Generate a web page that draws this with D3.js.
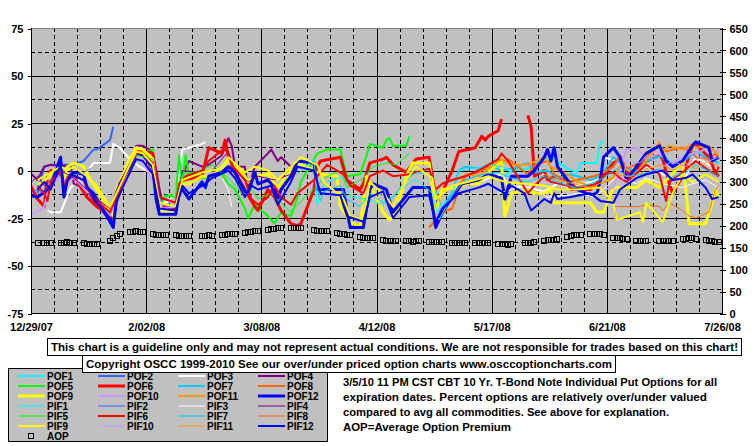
<!DOCTYPE html>
<html><head><meta charset="utf-8">
<script src="https://cdn.jsdelivr.net/npm/d3@7"></script>
<style>
html,body{margin:0;padding:0;background:#fff;}
svg{display:block;}
text{font-family:"Liberation Sans",Arial,sans-serif;font-weight:bold;font-size:11px;fill:#000;}
.leg text{font-size:10px;}
</style></head><body>
<svg id="c" width="755" height="446"></svg>
<script>
// ---------------- DATA ----------------
const xTickLabels = ["12/29/07","2/02/08","3/08/08","4/12/08","5/17/08","6/21/08","7/26/08"];
const leftTickLabels = [75,50,25,0,-25,-50,-75];
const rightTickLabels = [650,600,550,500,450,400,350,300,250,200,150,100,50,0];

const POF1 = [["5/21",-3],["5/23",0],["5/28",1],["6/2",7],["6/5",6],["6/9",1],["6/12",-1],["6/13",4],["6/18",4],["6/19",15],["6/20",15]];
const POF2 = [["12/31",-12],["1/2",2],["1/4",3],["1/8",3],["1/11",3],["1/14",5],["1/16",9],["1/17",11],["1/18",11],["1/22",16],["1/23",23]];
const POF3 = [["1/3",-21],["1/4",-22],["1/7",-22],["1/10",-9],["1/14",-3],["1/17",4],["1/22",4],["1/23",14],["1/25",12],["1/28",6],["1/31",2],["2/4",-2],["2/5",-6],["2/6",-15],["2/8",-17],["2/11",-12],["2/13",11],["2/15",12],["2/19",14],["2/20",15],["2/21",null],["5/14",-6],["5/16",-4],["5/20",-2],["5/22",-8],["5/28",-9],["6/2",-11],["6/6",-7],["6/10",-9],["6/13",-7],["6/17",-6],["6/19",-3],["6/20",7],["6/24",5],["6/27",2],["7/1",0],["7/3",2],["7/8",-2],["7/11",-4],["7/15",-3],["7/18",7],["7/22",3],["7/25",0]];
const POF4 = [["12/28",0],["12/31",-5],["1/2",2],["1/4",3],["1/7",2],["1/10",3],["1/11",-7],["1/14",-9],["1/16",-13],["1/18",-18],["1/22",-26],["1/23",-29],["1/24",-17],["1/28",2],["1/30",13],["2/1",13],["2/4",10],["2/5",1],["2/7",-19],["2/11",-20],["2/13",-2],["2/15",5],["2/19",2],["2/21",3],["2/25",8],["2/27",17],["2/28",13],["2/29",2],["3/3",2],["3/4",-10],["3/6",2],["3/10",9],["3/11",11],["3/13",5],["3/14",7],["3/17",2],["3/18",1]];
const POF5 = [["2/1",9],["2/4",11],["2/5",-7],["2/6",-19],["2/8",-13],["2/11",-14],["2/12",8],["2/13",-6],["2/14",8],["2/15",-2],["2/19",-4],["2/21",-4],["2/25",-2],["2/27",-7],["2/29",-10],["3/3",-20],["3/4",-25],["3/6",-18],["3/10",-24],["3/12",-28],["3/14",-22],["3/17",-24],["3/19",-14],["3/20",-6],["3/24",6],["3/25",9],["3/28",11],["4/1",11],["4/3",-3],["4/7",-2],["4/9",8],["4/10",14],["4/14",12],["4/15",16],["4/16",17],["4/17",13],["4/21",13],["4/22",18]];
const POF6 = [["12/28",-5],["12/31",-15],["1/2",-19],["1/3",-3],["1/4",0],["1/7",-2],["1/9",-4],["1/11",-3],["1/15",-14],["1/18",-19],["1/22",-23],["1/23",-25],["1/24",-12],["1/28",-1],["1/29",7],["1/31",11],["2/4",9],["2/5",-5],["2/6",-19],["2/11",-21],["2/13",-5],["2/19",-3],["2/21",12],["2/25",9],["2/26",16],["2/27",7],["2/29",-1],["3/6",-19],["3/7",-21],["3/10",-10],["3/12",-14],["3/14",-21],["3/17",-28],["3/19",-29],["3/20",-28],["3/24",-10],["3/25",2],["3/26",5],["4/1",7],["4/3",-5],["4/7",-10],["4/8",-7],["4/10",4],["4/14",6],["4/15",7],["4/17",3],["4/21",-1],["4/24",6],["4/28",7],["4/29",-3],["4/30",-19],["5/5",0],["5/7",10],["5/12",12],["5/14",18],["5/15",16],["5/16",18],["5/19",21],["5/20",27],["5/21",null],["5/28",29],["5/29",23],["5/30",-3],["6/2",0],["6/3",-5],["6/5",-3],["6/9",-5],["6/10",-10],["6/16",-10],["6/19",-5],["6/23",4],["6/25",6],["6/27",-2],["7/1",2],["7/3",5],["7/7",8],["7/8",6],["7/10",-7],["7/11",-12],["7/14",-3],["7/17",13],["7/18",14],["7/22",7],["7/24",-1],["7/25",-3]];
const POF7 = [["5/1",-22],["5/5",-12],["5/7",0],["5/9",2],["5/13",1],["5/16",3],["5/20",0],["5/23",1],["5/28",4],["5/30",-1],["6/3",0],["6/6",-4],["6/10",-2],["6/16",-5],["6/19",-3],["6/23",7],["6/25",4],["6/30",-1],["7/3",5],["7/8",8],["7/11",3],["7/15",6],["7/18",10],["7/22",6],["7/25",4]];
const POF8 = [["4/28",-30],["4/30",-26],["5/2",-22],["5/5",-20],["5/7",-10],["5/9",-3],["5/13",-1],["5/16",2],["5/20",4],["5/22",6],["5/28",-2],["5/30",3],["6/3",5],["6/5",-2],["6/9",-6],["6/12",-5],["6/17",-3],["6/19",-2],["6/23",2],["6/25",8],["6/27",1],["7/1",4],["7/3",7],["7/7",13],["7/9",10],["7/11",11],["7/14",12],["7/17",10],["7/18",7],["7/22",6],["7/24",9],["7/25",6]];
const POF9 = [["12/31",-8],["1/3",-4],["1/4",-2],["1/7",4],["1/8",-6],["1/9",2],["1/11",4],["1/14",2],["1/16",-5],["1/18",-10],["1/22",-21],["1/23",-24],["1/24",-10],["1/28",6],["1/30",12],["2/1",11],["2/4",6],["2/5",-12],["2/7",-22],["2/11",-22],["2/13",-7],["2/15",-7],["2/19",-3],["2/22",-3],["2/27",5],["2/29",2],["3/3",-3],["3/4",-6],["3/6",-3],["3/10",-2],["3/13",-9],["3/17",0],["3/19",4],["3/24",0],["3/26",-2],["3/31",-3],["4/1",-19],["4/4",-27],["4/7",-30],["4/9",-3],["4/14",-22],["4/16",-26],["4/18",-22],["4/21",-3],["4/23",4],["4/28",4],["4/29",-9],["4/30",-21],["5/2",-10],["5/7",-9],["5/9",-7],["5/13",-7],["5/16",-1],["5/20",5],["5/21",-24],["5/23",-12],["5/28",-10],["5/30",-12],["6/2",-12],["6/4",-10],["6/5",-17],["6/16",-17],["6/18",-22],["6/20",-22],["6/23",-9],["6/30",-9],["7/3",-5],["7/7",-9],["7/14",4],["7/15",-10],["7/16",-28],["7/21",-28],["7/23",-17],["7/24",-10],["7/25",-14]];
const POF10 = [["12/28",-23],["12/31",-22],["1/2",-19],["1/3",-12],["1/4",-8],["1/7",-3],["1/9",-6],["1/11",-4],["1/15",-11],["1/18",-15],["1/22",-24],["1/24",-13],["1/28",0],["1/30",6],["2/1",5],["2/5",-10],["2/7",-20],["2/11",-19],["2/13",-4],["2/14",null],["6/20",-10],["6/23",-9],["6/25",1],["6/27",11],["6/30",12],["7/3",6],["7/7",9],["7/10",3],["7/14",7],["7/17",9],["7/21",11],["7/25",10]];
const POF11 = [["5/5",-15],["5/7",-8],["5/9",-2],["5/13",-3],["5/16",1],["5/20",6],["5/23",3],["5/28",3],["6/2",7],["6/4",2],["6/9",-2],["6/12",-6],["6/16",-8],["6/19",-7],["6/23",-4],["6/25",2],["6/30",-2],["7/2",3],["7/7",15],["7/8",10],["7/10",13],["7/14",11],["7/17",14],["7/18",12],["7/22",13],["7/25",8]];
const POF12 = [["12/28",-13],["12/31",-14],["1/3",-10],["1/4",-8],["1/7",7],["1/8",-14],["1/9",-5],["1/11",-1],["1/14",-2],["1/15",-9],["1/17",-12],["1/18",-15],["1/22",-27],["1/23",-30],["1/24",-14],["1/25",-7],["1/28",2],["1/30",9],["2/1",8],["2/4",2],["2/5",-15],["2/6",-23],["2/11",-23],["2/12",-12],["2/13",-10],["2/15",-15],["2/19",-6],["2/20",-9],["2/21",-3],["2/25",-1],["2/27",2],["2/29",-1],["3/3",-11],["3/4",-12],["3/6",-1],["3/7",-7],["3/10",-5],["3/12",-9],["3/13",-15],["3/14",-10],["3/17",-3],["3/19",5],["3/24",4],["3/25",-10],["4/2",-10],["4/3",-21],["4/4",-30],["4/8",-30],["4/10",-10],["4/11",-7],["4/15",-10],["4/17",-22],["4/23",-9],["4/28",-9],["4/29",-19],["4/30",-30],["5/2",-22],["5/5",-14],["5/8",-7],["5/13",-5],["5/16",-2],["5/20",-4],["5/21",-15],["5/23",-3],["5/28",-3],["5/30",0],["6/2",7],["6/3",11],["6/4",5],["6/5",12],["6/6",2],["6/9",-5],["6/12",-10],["6/16",-13],["6/18",-12],["6/19",-5],["6/20",7],["6/23",12],["6/25",7],["6/27",-5],["6/30",2],["7/3",9],["7/7",13],["7/9",5],["7/11",2],["7/14",5],["7/17",13],["7/18",15],["7/22",12],["7/23",5],["7/25",7]];

const PIF1 = [["3/19",-2],["3/24",6],["3/25",-19],["3/26",-10],["3/28",-6],["4/2",-3],["4/4",-14],["4/9",-15],["4/14",-18],["4/16",-15],["4/21",-8],["4/23",-5],["4/25",-6],["4/29",-12],["5/1",-26],["5/5",-13],["5/7",0],["5/12",1],["5/16",3],["5/20",2],["5/23",0]];
const PIF2 = [["12/28",-13],["12/31",-10],["1/2",-12],["1/4",-6],["1/7",-2],["1/8",-6],["1/10",-3],["1/14",-1],["1/16",1]];
const PIF3 = [["2/25",-4],["2/27",-10],["2/28",-19],["2/29",null],["5/19",-12],["5/23",-10],["5/28",-7],["6/3",-14],["6/9",-13],["6/13",-12],["6/17",-14],["6/20",-10],["6/24",-3],["6/30",-7],["7/3",-4],["7/8",-7],["7/14",-9],["7/17",-7],["7/21",-5],["7/25",-9]];
const PIF4 = [["12/28",-8],["12/31",-3],["1/2",-8],["1/4",-5],["1/7",0],["1/9",-2],["1/11",-4],["1/15",-10],["1/18",-15],["1/22",-20],["1/24",-10],["1/28",4],["1/30",10],["2/1",9],["2/5",-5],["2/7",-15],["2/11",-17],["2/13",0],["2/19",-1],["2/22",0],["2/27",10],["2/29",0],["3/4",-6],["3/7",-3],["3/12",-5],["3/17",-2],["3/19",1]];
const PIF5 = [["1/28",5],["1/30",8],["2/4",6],["2/6",-15],["2/11",-12],["2/13",-2],["2/19",0],["2/22",3],["2/27",-4],["3/3",-14],["3/5",-10],["3/7",-15],["3/11",-12],["3/14",-17],["3/17",-22],["3/19",-18],["3/25",-8],["3/27",-4],["4/1",0],["4/3",-9],["4/8",-4],["4/11",2],["4/15",4],["4/18",3],["4/22",9]];
const PIF6 = [["12/31",-8],["1/2",-12],["1/3",-16],["1/4",-6],["1/7",0],["1/8",-8],["1/10",-2],["1/14",-5],["1/16",-12],["1/18",-16],["1/22",-22],["1/24",-14],["1/28",3],["1/30",9],["2/1",9],["2/4",4],["2/6",-14],["2/11",-17],["2/12",-7],["2/14",-3],["2/19",0],["2/21",5],["2/26",12],["2/28",3],["3/3",-5],["3/5",-15],["3/7",-18],["3/10",-14],["3/12",-8],["3/14",-14],["3/17",-18],["3/19",-12],["3/24",-5],["3/26",-1],["3/28",3],["4/2",-2],["4/4",-8],["4/8",-12],["4/10",-3],["4/14",0],["4/17",-3],["4/22",-2],["4/28",1],["4/30",-10],["5/2",-7],["5/5",-5],["5/9",-3],["5/13",0],["5/16",3],["5/19",6],["5/20",9],["5/22",5],["5/28",-12],["5/30",-8],["6/2",-3],["6/4",-6],["6/9",-8],["6/13",-9],["6/18",-7],["6/20",-2],["6/23",-1],["6/25",-4],["6/27",-6],["7/1",0],["7/3",3],["7/7",-2],["7/9",-16],["7/10",-6],["7/14",-1],["7/16",2],["7/18",5],["7/22",0],["7/24",-2],["7/25",2]];
const PIF7 = [["3/24",4],["3/25",-10],["3/26",-16],["3/27",-11],["4/1",-8],["4/3",-15],["4/7",-19],["4/10",-12],["4/14",-17],["4/17",-14],["4/21",-5],["4/24",-1],["4/28",-2],["4/30",-10],["5/2",-20],["5/6",-11],["5/9",-5],["5/14",-2],["5/19",-1],["5/23",-4],["5/28",-6],["6/2",-3],["6/6",-6],["6/11",-9],["6/16",-7],["6/20",-4],["6/24",1],["6/27",-3],["7/2",-2],["7/7",1],["7/10",-4],["7/15",-1],["7/18",3],["7/23",-1],["7/25",-3]];
const PIF8 = [["6/23",-19],["6/27",-19],["7/1",-19],["7/3",-18],["7/7",-19],["7/8",-21],["7/10",-17],["7/14",-21],["7/16",-24],["7/18",-25],["7/22",-22],["7/24",-10],["7/25",-8]];
const PIF9 = [["12/31",-5],["1/3",-2],["1/7",2],["1/9",0],["1/11",2],["1/15",-3],["1/18",-8],["1/22",-19],["1/24",-12],["1/28",3],["1/30",10],["2/1",9],["2/4",3],["2/6",-17],["2/11",-19],["2/13",-5],["2/19",-1],["2/25",1],["2/27",7],["3/3",-1],["3/6",2],["3/10",0],["3/13",-5],["3/17",2],["3/20",7],["3/25",3],["3/27",-6],["4/2",-15],["4/4",-24],["4/8",-26],["4/10",-6],["4/15",-14],["4/17",-19],["4/21",-5],["4/24",2],["4/29",-4],["4/30",-15],["5/5",-8],["5/12",-5],["5/16",-3],["5/21",-6],["5/27",-7],["6/2",-8],["6/6",-10],["6/12",-10],["6/19",-9],["6/23",-17],["6/24",-26],["7/1",-22],["7/2",-27],["7/3",-17],["7/8",-27],["7/9",-22],["7/11",-12],["7/14",-2],["7/17",-6],["7/21",-2],["7/25",-6]];
const PIF10 = [["6/23",-27],["6/25",-12],["6/27",5],["7/1",4],["7/3",8],["7/8",2],["7/11",5],["7/15",2],["7/18",8],["7/22",5],["7/25",7]];
const PIF11 = [["6/2",-2],["6/6",-5],["6/11",-7],["6/16",-9],["6/20",-6],["6/24",-2],["6/30",-4],["7/3",1],["7/8",3],["7/11",0],["7/15",4],["7/18",1],["7/22",5],["7/25",2]];
const PIF12 = [["12/31",-10],["1/2",-6],["1/4",-10],["1/7",3],["1/8",-10],["1/10",-2],["1/14",-5],["1/16",-11],["1/18",-17],["1/22",-25],["1/23",-28],["1/24",-16],["1/28",-1],["1/30",6],["2/1",5],["2/4",-2],["2/6",-20],["2/11",-21],["2/13",-8],["2/15",-12],["2/20",-7],["2/22",-4],["2/27",0],["2/29",-4],["3/3",-14],["3/5",-8],["3/7",-10],["3/11",-8],["3/13",-18],["3/17",-6],["3/19",2],["3/24",0],["3/26",-12],["4/1",-13],["4/3",-24],["4/8",-27],["4/10",-14],["4/14",-11],["4/17",-25],["4/22",-14],["4/28",-13],["4/30",-27],["5/2",-20],["5/7",-12],["5/13",-9],["5/16",-7],["5/21",-12],["5/23",-8],["5/27",-12],["5/28",-17],["5/29",-21],["6/2",-15],["6/4",-17],["6/5",-12],["6/6",-15],["6/10",-14],["6/16",-12],["6/19",-16],["6/23",-17],["6/25",-10],["6/30",-4],["7/3",-2],["7/8",0],["7/11",-5],["7/15",-4],["7/17",-2],["7/21",-9],["7/23",-15],["7/25",-14]];

// Average option premium, one row per week (Mon..Fri, null = market holiday), right axis
const AOP_WEEK_START = "12/31";
const AOP = [
 [160,null,160,160,160],[160,160,161,160,159],[159,158,157,158,158],[null,165,170,176,181],
 [184,185,186,185,184],[180,178,177,177,178],[177,176,176,175,176],[null,176,176,177,176],
 [178,179,180,181,181],[183,184,185,186,187],[190,191,192,193,193],[194,195,195,194,null],
 [189,188,187,186,186],[182,181,180,179,179],[173,172,171,170,170],[166,165,165,164,164],
 [164,164,163,164,164],[162,162,162,161,162],[160,160,160,160,159],[160,160,159,160,160],
 [158,157,157,156,157],[null,159,160,160,161],[165,166,167,167,168],[174,176,177,178,178],
 [180,181,181,180,179],[172,171,170,169,168],[165,164,164,164,null],[164,165,164,164,164],
 [168,169,170,170,169],[166,165,164,163,163]
];

const disclaimer = "This chart is a guideline only and may not represent actual conditions. We are not responsible for trades based on this chart!";
const copyright = "Copyright OSCC 1999-2010 See our over/under priced option charts www.osccoptioncharts.com";
const infoLines = ["3/5/10 11 PM CST CBT 10 Yr. T-Bond Note Individual Put Options for all",
 "expiration dates. Percent options are relatively over/under valued",
 "compared to avg all commodities. See above for explanation.",
 "AOP=Average Option Premium"];

// ---------------- STYLE / META ----------------
const palette = ["#00FFFF","#3366FF","#FFFFFF","#800080","#00FF00","#FF0000","#00CCFF","#FF6600","#FFFF00","#CC99FF","#FF9900","#0000FF"];
const POF = [POF1,POF2,POF3,POF4,POF5,POF6,POF7,POF8,POF9,POF10,POF11,POF12];
const PIF = [PIF1,PIF2,PIF3,PIF4,PIF5,PIF6,PIF7,PIF8,PIF9,PIF10,PIF11,PIF12];
const series = [];
POF.forEach((d,i)=>series.push({name:"POF"+(i+1),data:d,color:palette[i],w:[5,8,11].includes(i)?3:2}));
PIF.forEach((d,i)=>series.push({name:"PIF"+(i+1),data:d,color:palette[i],w:[5,8,11].includes(i)?2:1}));

function parseMD(s){const [m,d]=s.split("/").map(Number);return new Date(m===12?2007:2008,m-1,d);}
function parseFull(s){const [m,d,yy]=s.split("/").map(Number);return new Date(2000+yy,m-1,d);}

// ---------------- DRAW ----------------
const svg = d3.select("#c");
const L=31,R=722,T=28,B=313;
const x = d3.scaleTime().domain([parseFull(xTickLabels[0]),parseFull(xTickLabels[xTickLabels.length-1])]).range([L,R]);
const y = d3.scaleLinear().domain([-75,75]).range([B,T]);
const y2 = d3.scaleLinear().domain([0,650]).range([B,T]);

svg.append("rect").attr("x",L).attr("y",T).attr("width",R-L).attr("height",B-T).attr("fill","#C0C0C0");

const grid = svg.append("g").attr("shape-rendering","crispEdges");
for(let v=-62.5; v<=62.5; v+=12.5){
  const yy=Math.round(y(v))+0.5;
  grid.append("line").attr("x1",L).attr("x2",R).attr("y1",yy).attr("y2",yy)
    .attr("stroke","#000").attr("stroke-width",1)
    .attr("stroke-dasharray", (v%25===0)?null:"4,3");
}
const d0 = x.domain()[0];
for(let k=1;k<30;k++){
  const dt = d3.timeDay.offset(d0,7*k);
  const xx=Math.round(x(dt))+0.5;
  grid.append("line").attr("x1",xx).attr("x2",xx).attr("y1",T).attr("y2",B)
    .attr("stroke","#000").attr("stroke-width",1)
    .attr("stroke-dasharray", (k%5===0)?null:"4,3");
}

svg.append("clipPath").attr("id","clip").append("rect").attr("x",L).attr("y",T).attr("width",R-L).attr("height",B-T);
const lineGen = d3.line().defined(d=>d[1]!==null).x(d=>x(d[0])).y(d=>y(d[1]));
const lg = svg.append("g").attr("clip-path","url(#clip)");
series.forEach(s=>{
  const pts = s.data.map(([d,v])=>[parseMD(d),v]);
  lg.append("path").attr("d",lineGen(pts)).attr("fill","none")
    .attr("stroke",s.color).attr("stroke-width",s.w).attr("stroke-linejoin","round");
});

// AOP squares
const aopStart = parseMD(AOP_WEEK_START);
const aopPts=[];
AOP.forEach((wk,i)=>wk.forEach((v,j)=>{ if(v!==null) aopPts.push([d3.timeDay.offset(aopStart,7*i+j),v]); }));
svg.append("g").attr("shape-rendering","crispEdges").selectAll("rect").data(aopPts).join("rect")
  .attr("x",d=>Math.round(x(d[0]))-2.5).attr("y",d=>Math.round(y2(d[1]))-2.5)
  .attr("width",5).attr("height",5).attr("fill","none").attr("stroke","#000").attr("stroke-width",1);

// frame
const fr = svg.append("g").attr("shape-rendering","crispEdges");
fr.append("line").attr("x1",L).attr("x2",R).attr("y1",T+0.5).attr("y2",T+0.5).attr("stroke","#808080");
fr.append("line").attr("x1",L+0.5).attr("x2",L+0.5).attr("y1",T).attr("y2",B+1).attr("stroke","#000");
fr.append("line").attr("x1",R+0.5).attr("x2",R+0.5).attr("y1",T).attr("y2",B+1).attr("stroke","#000");
fr.append("line").attr("x1",L).attr("x2",R+1).attr("y1",B+0.5).attr("y2",B+0.5).attr("stroke","#000");

// left axis
const axL = d3.axisLeft(y).tickValues(leftTickLabels).tickSize(4).tickPadding(4).tickFormat(d=>String(d));
const gL = svg.append("g").attr("transform",`translate(${L+0.5},0.5)`).call(axL);
gL.select(".domain").remove();
gL.selectAll("text").attr("font-size",null).attr("font-family",null).attr("dy","0.35em");
gL.selectAll("line").attr("stroke","#000").attr("shape-rendering","crispEdges");

// right axis
const axR = d3.axisRight(y2).tickValues(rightTickLabels).tickSize(3).tickPadding(4).tickFormat(d=>String(d));
const gR = svg.append("g").attr("transform",`translate(${R+0.5},0.5)`).call(axR);
gR.select(".domain").remove();
gR.selectAll(".tick line").attr("x1",-3).attr("stroke","#000").attr("shape-rendering","crispEdges");
gR.selectAll("text").attr("font-size",null).attr("font-family",null).attr("dy","0.35em");

// bottom axis labels
const axB = d3.axisBottom(x).tickValues(xTickLabels.map(parseFull)).tickSize(0).tickPadding(10).tickFormat((d,i)=>xTickLabels[i]);
const gB = svg.append("g").attr("transform",`translate(0,${B})`).call(axB);
gB.select(".domain").remove();
gB.selectAll("text").attr("font-size",null).attr("font-family",null);

// legend box
svg.append("rect").attr("x",8.5).attr("y",368.5).attr("width",319).attr("height",73)
  .attr("fill","#C0C0C0").attr("stroke","#000").attr("shape-rendering","crispEdges");
const leg = svg.append("g").attr("class","leg");
series.forEach((s,i)=>{
  const col=i%4,row=Math.floor(i/4);
  const cy=376+10*row;
  leg.append("line").attr("x1",18+80*col).attr("x2",45+80*col).attr("y1",cy).attr("y2",cy)
    .attr("stroke",s.color).attr("stroke-width",s.w);
  leg.append("text").attr("x",47+80*col).attr("y",cy+3.5).text(s.name);
});
leg.append("rect").attr("x",28.5).attr("y",433.5).attr("width",5).attr("height",5)
  .attr("fill","none").attr("stroke","#000").attr("shape-rendering","crispEdges");
leg.append("text").attr("x",47).attr("y",439.5).text("AOP");

// disclaimer + copyright boxes
svg.append("rect").attr("x",47.5).attr("y",338.5).attr("width",694).attr("height",17)
  .attr("fill","#fff").attr("stroke","#000").attr("shape-rendering","crispEdges");
svg.append("text").attr("x",51).attr("y",351).attr("textLength",687).attr("lengthAdjust","spacingAndGlyphs").text(disclaimer);
svg.append("rect").attr("x",82.5).attr("y",355.5).attr("width",533).attr("height",17)
  .attr("fill","#fff").attr("stroke","#000").attr("shape-rendering","crispEdges");
svg.append("text").attr("x",86).attr("y",368).attr("textLength",526).attr("lengthAdjust","spacingAndGlyphs").text(copyright);

// info text
const infoW=[374,364,326,168];
infoLines.forEach((t,i)=>{
  svg.append("text").attr("x",343).attr("y",386+15*i).attr("textLength",infoW[i]).attr("lengthAdjust","spacingAndGlyphs").text(t);
});
</script>
</body></html>
